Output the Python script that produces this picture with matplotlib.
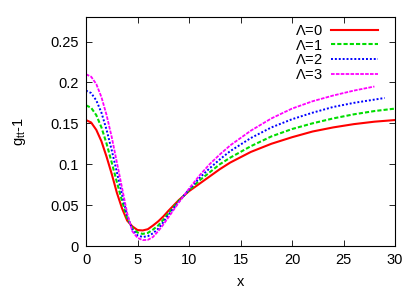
import numpy as np
import matplotlib
matplotlib.use('Agg')
import matplotlib.pyplot as plt
from matplotlib import ticker

plt.rcParams['font.family'] = ['Liberation Sans', 'DejaVu Sans']
plt.rcParams['mathtext.default'] = 'regular'

# values
x_full = [0, 0.5, 1, 1.5, 2, 2.5, 3, 3.5, 4, 4.5, 5, 5.5, 6, 6.5, 7, 7.5, 8, 9, 10,
          11, 12, 13, 14, 16, 18, 20, 22, 24, 26, 28, 29, 30]
lam0 = [0.154, 0.151, 0.142, 0.128, 0.109, 0.088, 0.065, 0.046, 0.031, 0.024, 0.0195,
        0.019, 0.0205, 0.025, 0.030, 0.036, 0.043, 0.056, 0.067,
        0.076, 0.085, 0.094, 0.102, 0.115, 0.125, 0.133, 0.140, 0.145, 0.149, 0.152, 0.153, 0.154]
lam1 = [0.172, 0.169, 0.160, 0.145, 0.125, 0.102, 0.078, 0.055, 0.034, 0.022, 0.0165,
        0.0148, 0.016, 0.020, 0.025, 0.032, 0.040, 0.055, 0.068,
        0.080, 0.090, 0.100, 0.108, 0.122, 0.134, 0.143, 0.150, 0.156, 0.161, 0.165, 0.1665, 0.168]
x_lam2 = x_full[:-1]
lam2 = [0.190, 0.187, 0.178, 0.163, 0.142, 0.117, 0.090, 0.063, 0.037, 0.020, 0.013,
        0.011, 0.012, 0.0155, 0.021, 0.029, 0.038, 0.054, 0.069,
        0.083, 0.095, 0.106, 0.116, 0.132, 0.145, 0.155, 0.163, 0.170, 0.175, 0.179, 0.181]
x_lam3 = x_full[:-2]
lam3 = [0.210, 0.207, 0.198, 0.182, 0.160, 0.133, 0.102, 0.071, 0.040, 0.018, 0.010,
        0.0072, 0.0075, 0.011, 0.018, 0.026, 0.035, 0.053, 0.070,
        0.086, 0.100, 0.112, 0.123, 0.141, 0.156, 0.168, 0.177, 0.184, 0.190, 0.195]

labels = [r'$\Lambda$=0', r'$\Lambda$=1', r'$\Lambda$=2', r'$\Lambda$=3']

fig = plt.figure(figsize=(4.15, 2.91), dpi=100)
ax = fig.add_axes([86 / 415, 1 - 246 / 291, 309 / 415, 229 / 291])

ax.plot(x_full, lam0, color='#ff0000', linewidth=1.5, label=labels[0])
ax.plot(x_full, lam1, color='#00dd00', linewidth=1.5, linestyle=(0, (2, 1)), label=labels[1])
ax.plot(x_lam2, lam2, color='#0000ff', linewidth=1.4, linestyle=(0, (1, 1)), label=labels[2])
ax.plot(x_lam3, lam3, color='#ff00ff', linewidth=1.3, linestyle=(0, (2, 0.7)), label=labels[3])

ax.set_xlim(0, 30)
ax.set_ylim(0, 0.28)
ax.xaxis.set_major_locator(ticker.MultipleLocator(5))
ax.yaxis.set_major_locator(ticker.MultipleLocator(0.05))
ax.yaxis.set_major_formatter(ticker.FormatStrFormatter('%g'))
ax.tick_params(direction='in', top=True, right=True, length=4, width=0.6, labelsize=10.5, pad=5)
for s in ax.spines.values():
    s.set_linewidth(0.8)

ax.set_xlabel('x', fontsize=10.5, labelpad=6)
ax.set_ylabel(r'g$_{tt}$-1', fontsize=10.5, labelpad=16)

ax.legend(loc='upper right', bbox_to_anchor=(0.945, 0.97), frameon=False, markerfirst=False,
          fontsize=10.5, handlelength=3.2, handletextpad=0.6, labelspacing=0.05,
          borderpad=0, borderaxespad=0)

plt.savefig('out.png', dpi=100)
